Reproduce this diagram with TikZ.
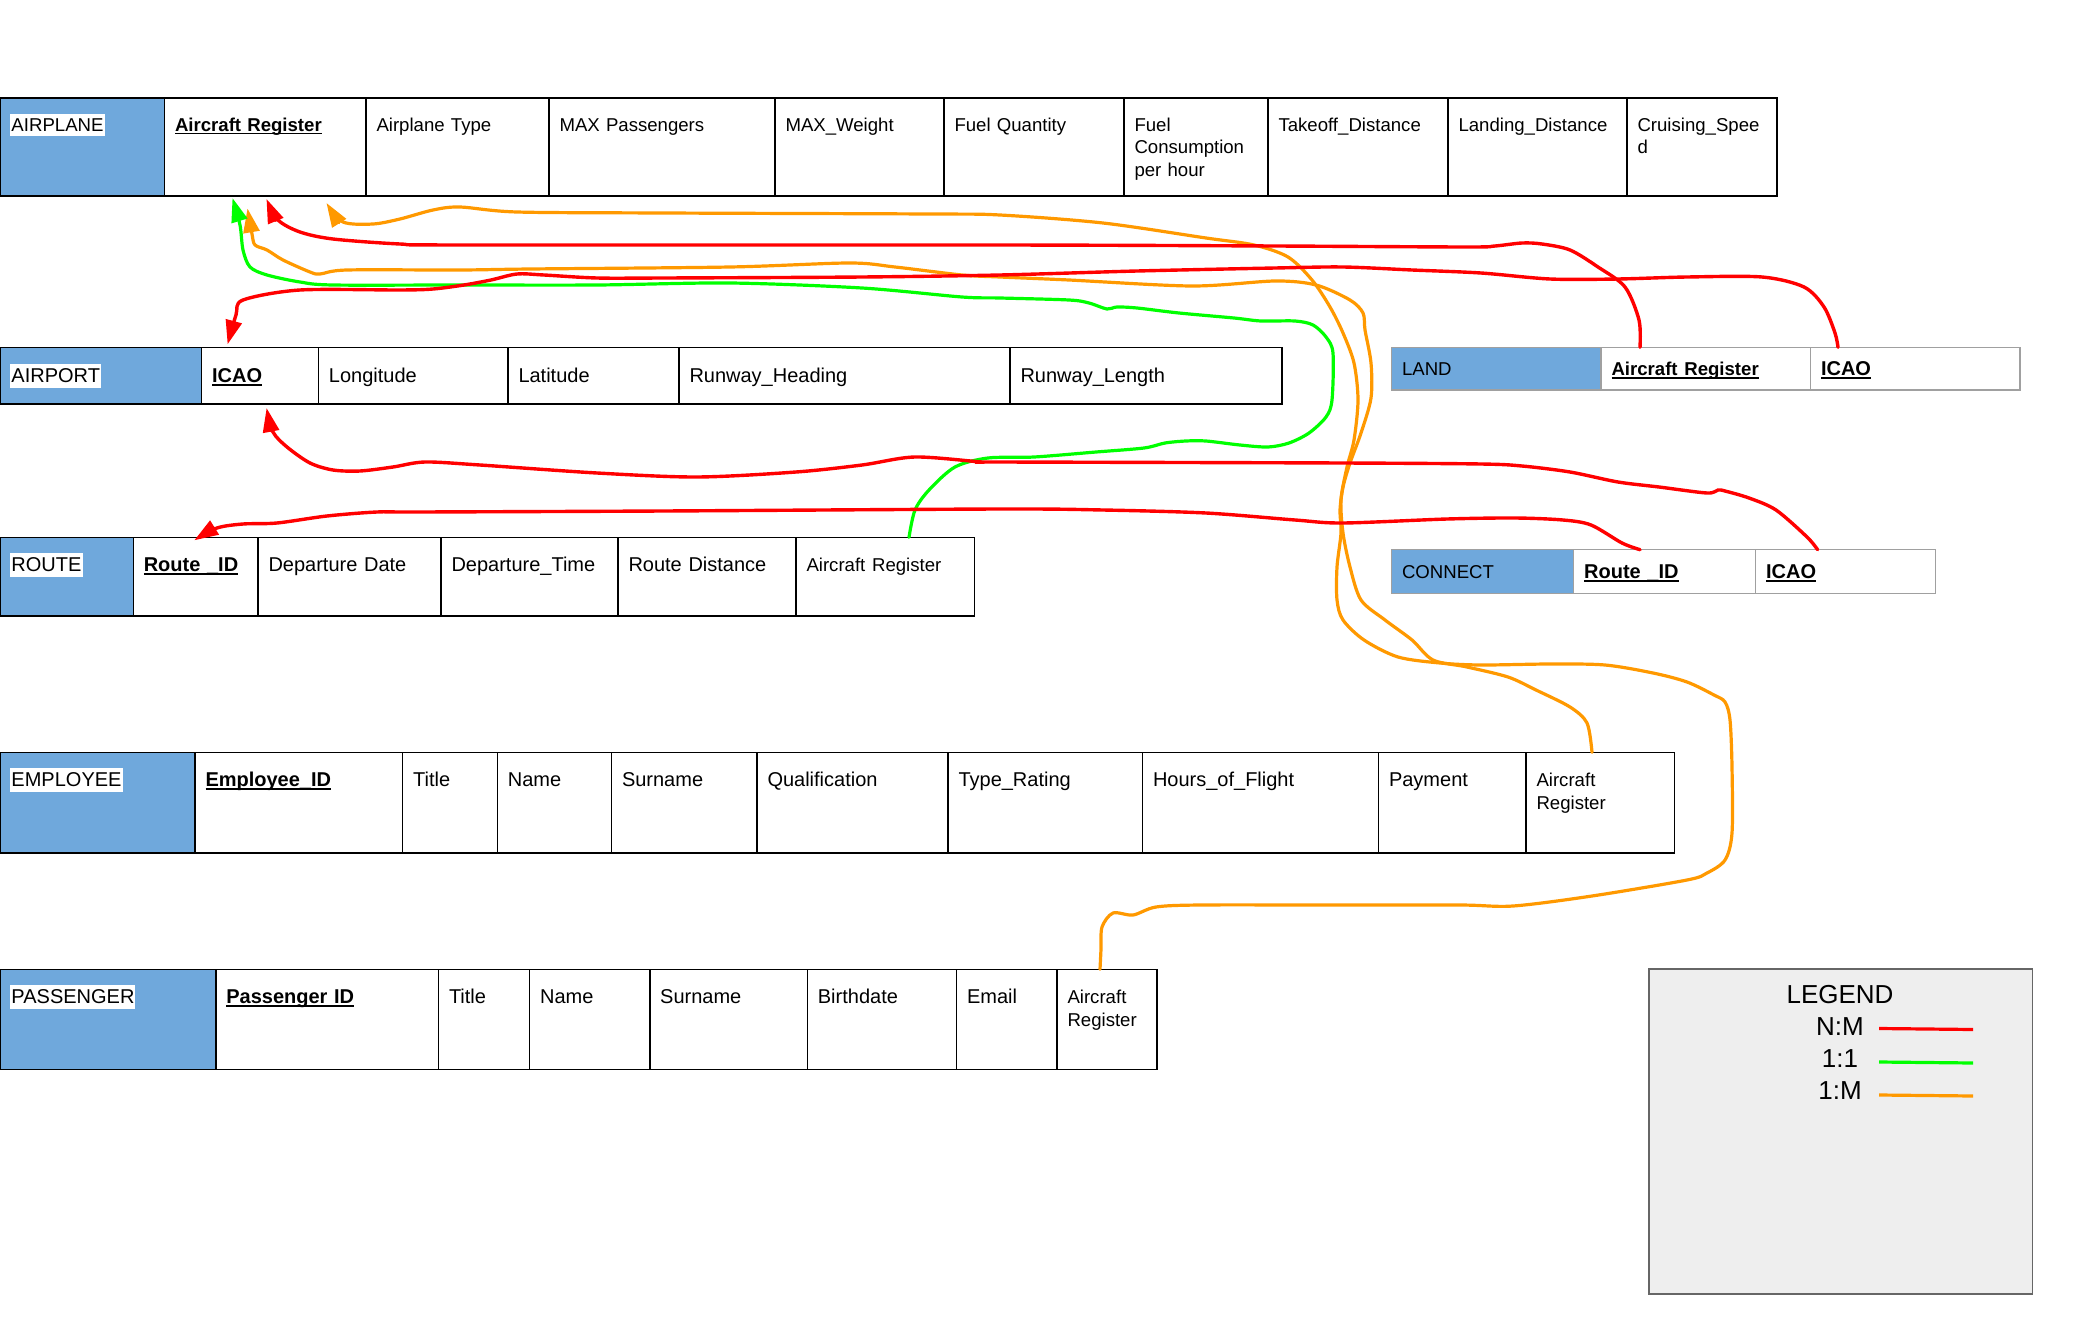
\documentclass[tikz,border=0pt]{standalone}
\usepackage{fontspec}
\setmainfont{Liberation Sans}
\usetikzlibrary{arrows.meta,calc}

\definecolor{tblue}{HTML}{6FA8DC}
\definecolor{nmred}{HTML}{FF0000}
\definecolor{oogreen}{HTML}{00FF00}
\definecolor{omorange}{HTML}{FF9900}
\definecolor{lgfill}{HTML}{EEEEEE}
\definecolor{lgline}{HTML}{666666}
\definecolor{relgray}{HTML}{A0A0A0}

\newcommand\fsA{\fontsize{9.3}{11.25}\selectfont}
\newcommand\fsB{\fontsize{10}{12}\selectfont}
\newcommand\fsC{\fontsize{13}{15}\selectfont}
\newcommand\tabname[1]{{\setlength{\fboxsep}{0.5pt}\colorbox{white}{\rule[-0.22em]{0pt}{1.12em}#1}}}
\newcommand\keyf[1]{\leavevmode\setbox0=\hbox{\bfseries #1}\rlap{\rule[-1.5pt]{\wd0}{0.7pt}}\box0}

\tikzset{
    cell/.style={draw=black, line width=0.8pt, anchor=north west, inner xsep=5.25pt, inner ysep=0pt, outer sep=0pt, align=left, text width=#1},
    hd/.style={fill=tblue},
    aprow/.style={font=\fsA, text height=16.7pt, text depth=32.3pt},
    aptrow/.style={font=\fsB, text height=7.2pt, text depth=0pt, minimum height=28.35pt},
    relrow/.style={font=\fsB, text height=7pt, text depth=0pt, minimum height=#1, draw=relgray, line width=0.6pt},
    rtrow/.style={font=\fsB, text height=17.2pt, text depth=22.15pt},
    emrow/.style={font=\fsB, text height=17.2pt, text depth=33pt},
    psrow/.style={font=\fsB, text height=17.2pt, text depth=32.8pt},
    nm/.style={draw=nmred, line width=1.7pt, line cap=round, line join=round},
    oo/.style={draw=oogreen, line width=1.6pt, line cap=round, line join=round},
    om/.style={draw=omorange, line width=1.6pt, line cap=round, line join=round},
    relarrow/.style={-{Triangle[length=12pt,width=8pt]}},
}

\begin{document}
\begin{tikzpicture}[x=0.5pt, y=-0.5pt]
        \fill[white] (0,0) rectangle (2077,1322);
        \useasboundingbox (0,0) rectangle (2077,1322);

        \node[cell=71.75pt, aprow, hd] (ap) at (0,98) {\tabname{AIRPLANE}};
        \node[cell=90.25pt, aprow] (ap-reg) at (ap.north east) {\keyf{Aircraft Register}};
        \node[cell=81pt, aprow] (ap-type) at (ap-reg.north east) {Airplane Type};
        \node[cell=102.5pt, aprow] (ap-pax) at (ap-type.north east) {MAX Passengers};
        \node[cell=74pt, aprow] (ap-wgt) at (ap-pax.north east) {MAX\_Weight};
        \node[cell=79.5pt, aprow] (ap-qty) at (ap-wgt.north east) {Fuel Quantity};
        \node[cell=61.5pt, aprow] (ap-cons) at (ap-qty.north east) {Fuel\\Consumption\\per hour};
        \node[cell=79.5pt, aprow] (ap-tko) at (ap-cons.north east) {Takeoff\_Distance};
        \node[cell=79pt, aprow] (ap-ldg) at (ap-tko.north east) {Landing\_Distance};
        \node[cell=64.5pt, aprow] (ap-spd) at (ap-ldg.north east) {Cruising\_Spee\\d};

        \node[cell=90.3pt, aptrow, hd] (apt) at (0,347.3) {\tabname{AIRPORT}};
        \node[cell=47.9pt, aptrow] (apt-icao) at (apt.north east) {\keyf{ICAO}};
        \node[cell=84.3pt, aptrow] (apt-lon) at (apt-icao.north east) {Longitude};
        \node[cell=75pt, aptrow] (apt-lat) at (apt-lon.north east) {Latitude};
        \node[cell=155pt, aptrow] (apt-hdg) at (apt-lat.north east) {Runway\_Heading};
        \node[cell=125.5pt, aptrow] (apt-len) at (apt-hdg.north east) {Runway\_Length};

        \node[cell=94.25pt, relrow=21.35pt, hd] (ln) at (1391.5,347.3) {\fsA LAND};
        \node[cell=94.25pt, relrow=21.35pt] (ln-reg) at (ln.north east) {\fsA\keyf{Aircraft Register}};
        \node[cell=94.25pt, relrow=21.35pt] (ln-icao) at (ln-reg.north east) {\keyf{ICAO}};

        \node[cell=56.15pt, rtrow, hd] (rt) at (0,537.3) {\tabname{ROUTE}};
        \node[cell=51.85pt, rtrow] (rt-id) at (rt.north east) {\keyf{Route \_ID}};
        \node[cell=81pt, rtrow] (rt-date) at (rt-id.north east) {Departure Date};
        \node[cell=78pt, rtrow] (rt-time) at (rt-date.north east) {Departure\_Time};
        \node[cell=78.5pt, rtrow] (rt-dist) at (rt-time.north east) {Route Distance};
        \node[cell=78.7pt, rtrow] (rt-reg) at (rt-dist.north east) {\fsA Aircraft Register};

        \node[cell=80.55pt, relrow=21.8pt, hd] (cn) at (1391.5,549.7) {\fsA CONNECT};
        \node[cell=80.5pt, relrow=21.8pt] (cn-id) at (cn.north east) {\keyf{Route \_ID}};
        \node[cell=79.5pt, relrow=21.8pt] (cn-icao) at (cn-id.north east) {\keyf{ICAO}};

        \node[cell=87pt, emrow, hd] (em) at (0,752.3) {\tabname{EMPLOYEE}};
        \node[cell=93.3pt, emrow] (em-id) at (em.north east) {\keyf{Employee\_ID}};
        \node[cell=36.9pt, emrow] (em-title) at (em-id.north east) {Title};
        \node[cell=46.55pt, emrow] (em-name) at (em-title.north east) {Name};
        \node[cell=62.25pt, emrow] (em-sur) at (em-name.north east) {Surname};
        \node[cell=85pt, emrow] (em-qual) at (em-sur.north east) {Qualification};
        \node[cell=86.75pt, emrow] (em-type) at (em-qual.north east) {Type\_Rating};
        \node[cell=107.5pt, emrow] (em-hrs) at (em-type.north east) {Hours\_of\_Flight};
        \node[cell=63.25pt, emrow] (em-pay) at (em-hrs.north east) {Payment};
        \node[cell=63.75pt, emrow, font=\fsA] (em-reg) at (em-pay.north east) {Aircraft\\Register};

        \node[cell=97.4pt, psrow, hd] (ps) at (0,969.3) {\tabname{PASSENGER}};
        \node[cell=100.85pt, psrow] (ps-id) at (ps.north east) {\keyf{Passenger ID}};
        \node[cell=35.05pt, psrow] (ps-title) at (ps-id.north east) {Title};
        \node[cell=49.55pt, psrow] (ps-name) at (ps-title.north east) {Name};
        \node[cell=68.35pt, psrow] (ps-sur) at (ps-name.north east) {Surname};
        \node[cell=64.1pt, psrow] (ps-bday) at (ps-sur.north east) {Birthdate};
        \node[cell=39.7pt, psrow] (ps-mail) at (ps-bday.north east) {Email};
        \node[cell=39.5pt, psrow, font=\fsA] (ps-reg) at (ps-mail.north east) {Aircraft\\Register};

        \node[draw=lgline, line width=0.8pt, fill=lgfill, anchor=north west, inner sep=0pt, minimum width=191.8pt, minimum height=162.5pt] (legend) at (1648,968.3) {};
        \node[font=\fsC, anchor=base] (lg-title) at (1840,1003) {LEGEND};
        \node[font=\fsC, anchor=base] (lg-nm) at (1840,1035) {N:M};
        \node[font=\fsC, anchor=base] (lg-oo) at (1840,1067) {1:1};
        \node[font=\fsC, anchor=base] (lg-om) at (1840,1099) {1:M};
        \draw[nm, line width=1.6pt, line cap=butt] ($(lg-nm.base)+(39,-6.5)$) -- ++(94,1);
        \draw[oo, line cap=butt] ($(lg-oo.base)+(39,-5)$) -- ++(94,1);
        \draw[om, line cap=butt] ($(lg-om.base)+(39,-4)$) -- ++(94,1);

        \coordinate (r1a) at ($(ln-reg.north west)+(39,0)$);
        \coordinate (r1b) at ($(ap-reg.south west)+(102,3)$);
        \coordinate (r2a) at ($(ln-icao.north west)+(27.5,0)$);
        \coordinate (r2b) at ($(apt-icao.north west)+(26,-3)$);
        \coordinate (r3a) at ($(cn-icao.north west)+(62,0)$);
        \coordinate (r3b) at ($(apt-icao.south west)+(65,4)$);
        \coordinate (r4a) at ($(cn-id.north west)+(66.5,0)$);
        \coordinate (r4b) at ($(rt-id.north west)+(61,3)$);
        \coordinate (g1a) at ($(rt-reg.north west)+(113,0)$);
        \coordinate (g1b) at ($(ap-reg.south west)+(68,2)$);
        \coordinate (o1a) at ($(em-reg.north west)+(66,0)$);
        \coordinate (o1b) at ($(ap-reg.south west)+(162,7)$);
        \coordinate (o2a) at ($(ps-reg.north west)+(43,0)$);
        \coordinate (o2b) at ($(ap-reg.south west)+(83,12.5)$);

        \draw[om, relarrow] plot[smooth, tension=0.5] coordinates {(o1a) (1587,723) (1570,707) (1536,690) (1508,677) (1467,667) (1433,660) (1412,640) (1385,620) (1361,600) (1350,567) (1343,533) (1341,500) (1347,467) (1354,440) (1358,400) (1354,363) (1343,333) (1330,307) (1312,280) (1288,257) (1254,245) (1206,238) (1103,223) (1000,215) (929,214) (663,213) (517,212) (460,207) (433,210) (400,219) (373,224) (343,222) (o1b)};
        \draw[om, relarrow] plot[smooth, tension=0.5] coordinates {(o2a) (1101,949) (1102,927) (1113,913) (1133,915) (1156,907) (1200,905) (1327,905) (1460,905) (1513,906) (1592,896) (1687,880) (1707,873) (1725,860) (1732,833) (1732,767) (1730,720) (1725,702) (1714,695) (1687,682) (1653,673) (1605,665) (1550,664) (1481,665) (1440,663) (1398,657) (1364,640) (1343,620) (1337,600) (1337,567) (1341,533) (1340,510) (1343,487) (1350,463) (1361,433) (1371,398) (1371,363) (1365,330) (1363,313) (1350,300) (1316,285) (1275,281) (1192,286) (1069,280) (1000,277) (962,275) (895,267) (849,263) (730,267) (530,269) (460,270) (347,270) (320,274) (310,272) (283,260) (267,250) (255,245) (252,234) (o2b)};

        \draw[oo, relarrow] plot[smooth, tension=0.5] coordinates {(g1a) (915,510) (929,490) (955,467) (988,458) (1034,457) (1096,452) (1144,448) (1165,443) (1186,441) (1206,441) (1240,445) (1268,447) (1289,443) (1309,433) (1326,417) (1332,400) (1333,353) (1326,337) (1313,325) (1295,321) (1261,321) (1234,318) (1179,313) (1137,308) (1117,307) (1107,309) (1089,303) (1069,300) (1000,298) (962,297) (862,288) (730,283) (597,285) (460,285) (333,285) (300,282) (267,275) (250,267) (243,250) (240,225) (g1b)};

        \draw[nm, relarrow] plot[smooth, tension=0.5] coordinates {(r1a) (1639,320) (1625,287) (1598,267) (1570,250) (1542,244) (1522,243) (1495,246) (1467,247) (1275,246) (1000,245) (464,245) (400,244) (333,239) (300,232) (278,220) (r1b)};
        \draw[nm, relarrow] plot[smooth, tension=0.5] coordinates {(r2a) (1835,333) (1824,307) (1804,287) (1762,277) (1687,277) (1618,279) (1550,279) (1481,273) (1412,270) (1343,267) (1275,268) (1137,271) (1000,275) (862,277) (663,278) (597,278) (544,275) (517,274) (491,280) (464,285) (433,289) (400,290) (300,290) (243,300) (236,315) (r2b)};
        \draw[nm, relarrow] plot[smooth, tension=0.5] coordinates {(r3a) (1807,537) (1776,510) (1749,498) (1725,491) (1718,490) (1707,493) (1659,487) (1618,482) (1570,472) (1522,466) (1481,464) (1343,463) (1000,462) (982,462) (915,457) (862,465) (796,472) (697,477) (597,473) (480,465) (425,462) (393,467) (360,471) (333,470) (310,463) (287,447) (273,432) (r3b)};
        \draw[nm, relarrow] plot[smooth, tension=0.5] coordinates {(r4a) (1622,543) (1591,525) (1563,520) (1515,518) (1447,519) (1343,523) (1295,520) (1206,513) (1103,510) (1000,509) (663,511) (420,512) (377,512) (327,516) (277,523) (243,524) (217,528) (r4b)};
\end{tikzpicture}
\end{document}
